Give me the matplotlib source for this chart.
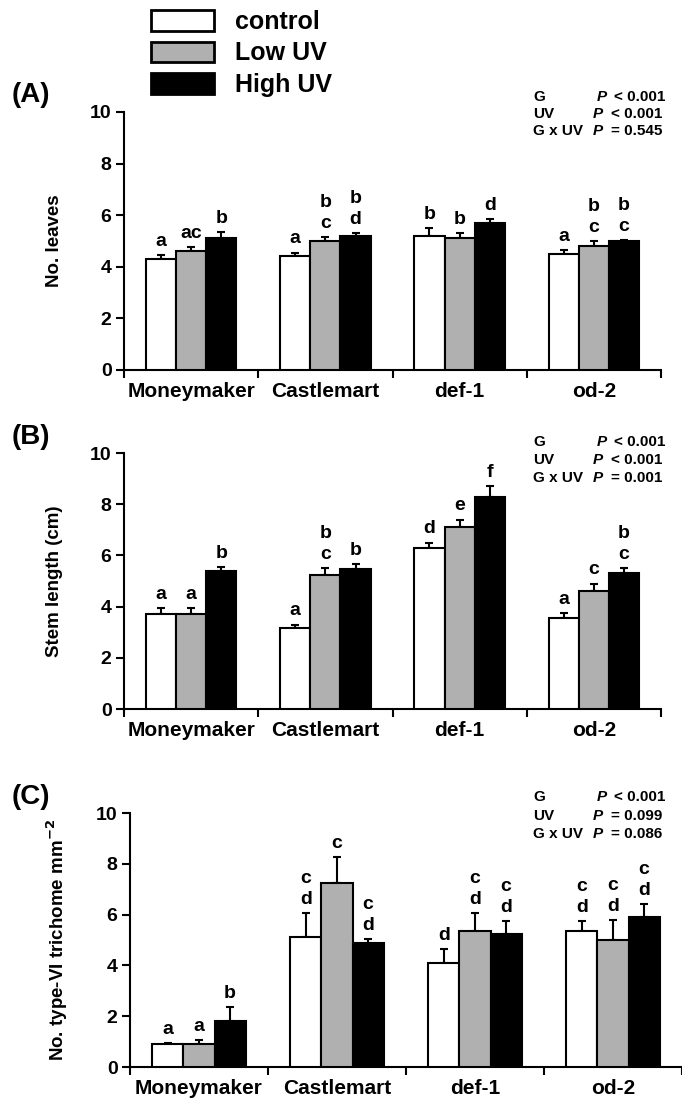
import matplotlib
matplotlib.use("Agg")
import matplotlib.pyplot as plt
from matplotlib.patches import Patch
import numpy as np

plt.rcParams['font.family'] = ['Liberation Sans', 'DejaVu Sans']
plt.rcParams['font.weight'] = 'bold'
plt.rcParams['mathtext.default'] = 'bf'

genotypes = ["Moneymaker", "Castlemart", "def-1", "od-2"]
treatments = ["control", "Low UV", "High UV"]
colors = ["white", "#b0b0b0", "black"]

# Panel A: No. leaves
leaves_mean = [[4.3, 4.6, 5.1], [4.4, 5.0, 5.2], [5.2, 5.1, 5.7], [4.5, 4.8, 5.0]]
leaves_err = [[0.15, 0.15, 0.25], [0.15, 0.15, 0.12], [0.3, 0.2, 0.15], [0.15, 0.2, 0.02]]
leaves_letters = [["a", "ac", "b"], ["a", "b\nc", "b\nd"], ["b", "b", "d"], ["a", "b\nc", "b\nc"]]
leaves_stats = [("G", "< 0.001"), ("UV", "< 0.001"), ("G x UV", "= 0.545")]

# Panel B: Stem length
stem_mean = [[3.7, 3.7, 5.4], [3.15, 5.25, 5.45], [6.3, 7.1, 8.3], [3.55, 4.6, 5.3]]
stem_err = [[0.25, 0.25, 0.15], [0.15, 0.25, 0.2], [0.2, 0.3, 0.4], [0.2, 0.3, 0.2]]
stem_letters = [["a", "a", "b"], ["a", "b\nc", "b"], ["d", "e", "f"], ["a", "c", "b\nc"]]
stem_stats = [("G", "< 0.001"), ("UV", "< 0.001"), ("G x UV", "= 0.001")]

# Panel C: trichomes
tric_mean = [[0.9, 0.9, 1.8], [5.1, 7.25, 4.9], [4.1, 5.35, 5.25], [5.35, 5.0, 5.9]]
tric_err = [[0.05, 0.15, 0.55], [0.95, 1.0, 0.15], [0.55, 0.7, 0.5], [0.4, 0.8, 0.5]]
tric_letters = [["a", "a", "b"], ["c\nd", "c", "c\nd"], ["d", "c\nd", "c\nd"], ["c\nd", "c\nd", "c\nd"]]
tric_stats = [("G", "< 0.001"), ("UV", "= 0.099"), ("G x UV", "= 0.086")]

W, H = 682, 1103
fig = plt.figure(figsize=(W / 100, H / 100), dpi=100)


def px_axes(left, right, top, bottom):
    return fig.add_axes([left / W, 1 - bottom / H, (right - left) / W, (bottom - top) / H])


def panel(ax, means, errs, letters, ylabel, bw, ylabel_x_px, left_px, right_px):
    means = np.array(means)
    errs = np.array(errs)
    n = len(genotypes)
    x = np.arange(n) + 0.5
    for j in range(3):
        xs = x + (j - 1) * bw
        ax.bar(xs, means[:, j], width=bw, color=colors[j], edgecolor="black",
               linewidth=1.5, zorder=3)
        ax.errorbar(xs, means[:, j], yerr=[np.zeros(n), errs[:, j]], fmt="none",
                    ecolor="black", elinewidth=1.5, capsize=3, capthick=1.5, zorder=2)
        for i in range(n):
            ax.text(xs[i], means[i, j] + errs[i, j] + 0.2, letters[i][j],
                    ha="center", va="bottom", fontsize=14, fontweight="bold",
                    linespacing=1.3)
    ax.set_xlim(0, n)
    ax.set_ylim(0, 10)
    ax.set_yticks([0, 2, 4, 6, 8, 10])
    ax.set_xticks(np.arange(n + 1))
    ax.set_xticklabels([])
    ax.set_xticks(x, minor=True)
    ax.set_xticklabels(genotypes, minor=True, fontsize=15, fontweight="bold")
    ax.tick_params(axis="x", which="minor", length=0, pad=9)
    ax.tick_params(axis="x", which="major", direction="out", length=6, width=1.5)
    ax.tick_params(axis="y", direction="out", length=6, width=1.5, labelsize=14, pad=3)
    for lab in ax.get_yticklabels():
        lab.set_fontweight("bold")
    for s in ["top", "right"]:
        ax.spines[s].set_visible(False)
    for s in ["left", "bottom"]:
        ax.spines[s].set_linewidth(1.5)
    ax.set_ylabel(ylabel, fontsize=13.5, fontweight="bold")
    ax.yaxis.set_label_coords((ylabel_x_px - left_px) / (right_px - left_px), 0.5)
    return ax


BW = 0.225
axA = px_axes(124, 661, 112, 370)
panel(axA, leaves_mean, leaves_err, leaves_letters, "No. leaves", BW, 63, 124, 661)
axB = px_axes(124, 661, 453, 709)
panel(axB, stem_mean, stem_err, stem_letters, "Stem length (cm)", BW, 63, 124, 661)
axC = px_axes(130, 682, 813, 1067)
panel(axC, tric_mean, tric_err, tric_letters,
      "No. type-VI trichome mm$^{-2}$", BW, 70, 130, 682)

# panel tags
for tag, y in [("(A)", 95), ("(B)", 437), ("(C)", 797)]:
    fig.text(12 / W, 1 - y / H, tag, fontsize=20, fontweight="bold", ha="left", va="center")

# stats text
for stats, ys in [(leaves_stats, [97, 114, 131]), (stem_stats, [442, 460, 478]),
                  (tric_stats, [797, 816, 834])]:
    for k, ((lab, val), y) in enumerate(zip(stats, ys)):
        fig.text(533 / W, 1 - y / H, lab, fontsize=11, fontweight="bold", ha="left", va="center")
        fig.text((665 if k == 0 else 662) / W, 1 - y / H, val, fontsize=11,
                 fontweight="bold", ha="right", va="center")
        pxv = 597 if k == 0 else 593
        fig.text(pxv / W, 1 - y / H, "P", fontsize=11, fontweight="bold", fontstyle="italic",
                 ha="left", va="center")

# legend
handles = [Patch(facecolor=c, edgecolor="black", linewidth=2) for c in colors]
fig.legend(handles, treatments, loc="upper left", bbox_to_anchor=(151 / W, 1 - 10 / H),
           frameon=False, handlelength=2.5, handleheight=0.88, handletextpad=0.85,
           labelspacing=0.3, borderpad=0, borderaxespad=0,
           prop={"size": 18, "weight": "bold"})

fig.savefig("out.png", dpi=100)
